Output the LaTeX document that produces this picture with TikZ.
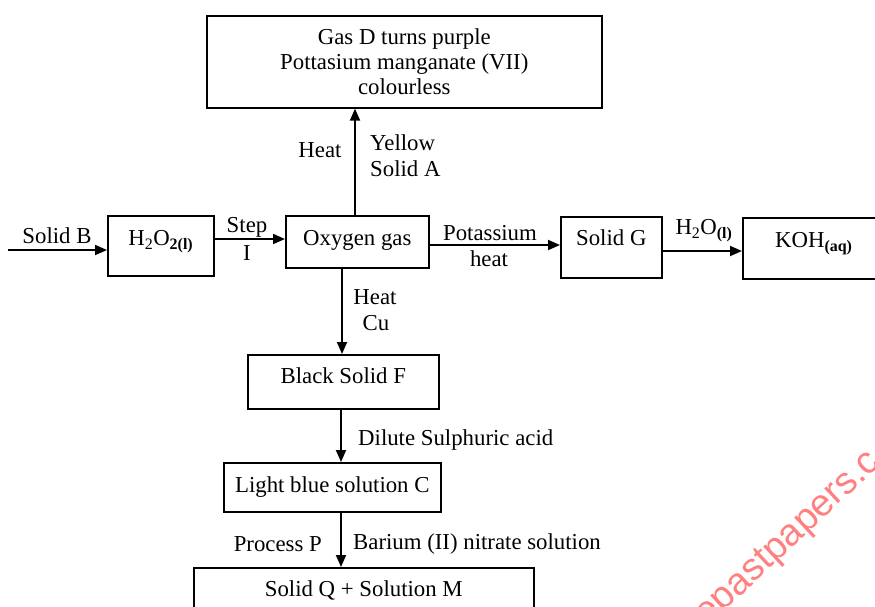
\documentclass[tikz,border=0pt]{standalone}
\usepackage{fontspec}
\setmainfont{Liberation Serif}
\newfontfamily\wmfont{Liberation Sans}
\usetikzlibrary{arrows.meta}
\begin{document}
\begin{tikzpicture}[x=1pt,y=-1pt,
  txt/.style={font=\fontsize{22.8}{25}\selectfont},
  box/.style={txt, draw, line width=1.6pt, inner sep=0pt, anchor=north west, align=center},
  lbl/.style={txt, inner sep=0pt},
  arr/.style={line width=1.8pt, -{Triangle[length=12pt,width=10pt]}},
  wm/.style={text=red!50, font=\wmfont\fontsize{38}{40}\selectfont, inner sep=0pt, anchor=base west, rotate=43}]
\useasboundingbox (0,0) rectangle (875,606);
\clip (0,0) rectangle (875,606);
\fill[white] (0,0) rectangle (875,606);

% boxes
\node[box, minimum width=395pt, minimum height=92pt] (top) at (206,15)
  {Gas D turns purple\\Pottasium manganate (VII)\\colourless};
\node[box, minimum width=106pt, text height=30pt, text depth=30pt] (h2o2) at (107,215)
  {H\textsubscript{2}O\textsubscript{\textbf{2(l)}}};
\node[box, minimum width=143pt, text height=30pt, text depth=22pt] (oxy) at (285,215) {Oxygen gas};
\node[box, minimum width=101pt, text height=29pt, text depth=32pt] (g) at (560,216) {Solid G};
\node[box, minimum width=142pt, text height=30pt, text depth=31pt] (koh) at (742,217)
  {KOH\textsubscript{\textbf{(aq)}}};
\node[box, minimum width=191pt, text height=29pt, text depth=25pt] (f) at (247,354) {Black Solid F};
\node[box, minimum width=217pt, text height=30pt, text depth=19pt] (c) at (223,462) {Light blue solution C};
\node[box, minimum width=340pt, text height=29pt, text depth=21pt] (q) at (193,567) {Solid Q + Solution M};

% connectors
\coordinate (sb) at (8,250);
\draw[arr] (sb) -- (sb -| h2o2.west);
\coordinate (s1) at (h2o2.east |- 0,239);
\draw[arr] (s1) -- (s1 -| oxy.west);
\coordinate (s2) at (oxy.east |- 0,245);
\draw[arr] (s2) -- (s2 -| g.west);
\coordinate (s3) at (g.east |- 0,251);
\draw[arr] (s3) -- (s3 -| koh.west);
\coordinate (u) at (355,0 |- oxy.north);
\draw[arr] (u) -- (u |- top.south);
\coordinate (d1) at (342,0 |- oxy.south);
\draw[arr] (d1) -- (d1 |- f.north);
\coordinate (d2) at (341,0 |- f.south);
\draw[arr] (d2) -- (d2 |- c.north);
\coordinate (d3) at (341,0 |- c.south);
\draw[arr] (d3) -- (d3 |- q.north);

% labels
\node[lbl] (lsb) at (57,236) {Solid B};
\node[lbl] (lstep) at (247,227) {Step};
\node[lbl] (li) at (247,253) {I};
\node[lbl] (lheat1) at (320,150) {Heat};
\node[lbl, anchor=west] (lyel) at (370,143) {Yellow};
\node[lbl, anchor=west] (lsa) at (370,169) {Solid A};
\node[lbl] (lpot) at (490,233) {Potassium};
\node[lbl] (lheat2) at (489,259) {heat};
\node[lbl] (lwater) at (704,231) {H\textsubscript{2}O\textsubscript{\textbf{(l)}}};
\node[lbl] (lheat3) at (375,297) {Heat};
\node[lbl] (lcu) at (376,323) {Cu};
\node[lbl, anchor=west] (ldil) at (358,440) {Dilute Sulphuric acid};
\node[lbl, anchor=east] (lpp) at (322,544) {Process P};
\node[lbl, anchor=west] (lba) at (353,544) {Barium (II) nitrate solution};

% watermark
\node[wm] (wmark) at (707,627) {epastpapers.c};
\end{tikzpicture}
\end{document}
